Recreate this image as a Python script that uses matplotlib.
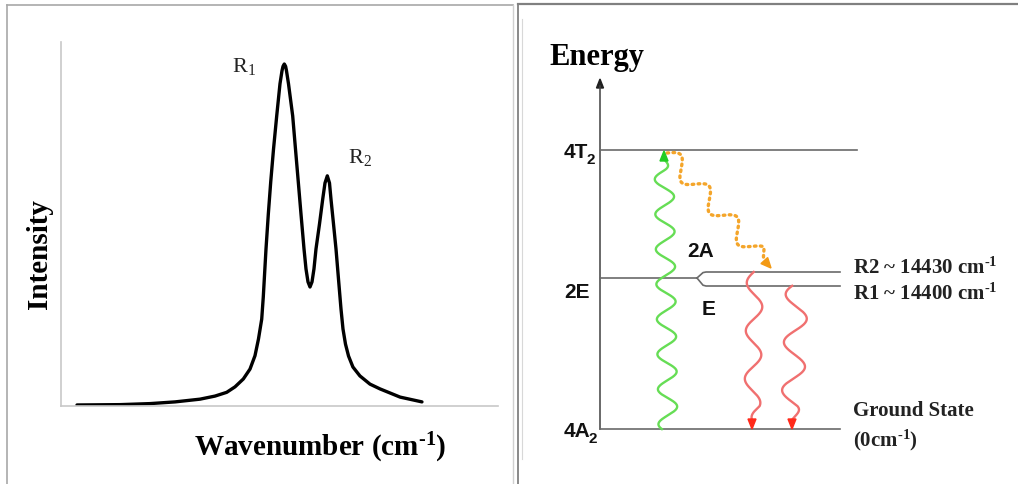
import matplotlib
matplotlib.use("Agg")
import matplotlib.pyplot as plt
import numpy as np
from matplotlib.patches import Polygon

plt.rcParams["mathtext.fontset"] = "custom"
plt.rcParams["mathtext.rm"] = "Liberation Serif"
plt.rcParams["mathtext.bf"] = "Liberation Serif:bold"
plt.rcParams["mathtext.it"] = "Liberation Serif:italic"

# ---------------- data: emission spectrum -------------
wavenumber = [3.66, 13.50, 20.37, 26.09, 31.81, 35.24, 37.92, 39.82, 41.72,
              43.25, 44.39, 45.19, 45.93, 46.29, 46.91, 47.44, 47.99, 48.63,
              49.36, 50.11, 50.57, 50.80, 51.10, 51.40, 51.60, 52.06, 53.02,
              53.66, 54.30, 54.92, 55.61, 56.06, 56.52, 56.98, 57.44, 57.89,
              58.35, 59.15, 59.89, 60.41, 60.94, 61.44, 61.78, 62.36, 62.93,
              63.50, 64.07, 64.53, 65.10, 65.80, 66.80, 68.40, 70.70, 73.00,
              77.60, 82.60]
intensity = [0.003, 0.004, 0.007, 0.012, 0.020, 0.029, 0.040, 0.056, 0.079,
             0.108, 0.147, 0.196, 0.254, 0.319, 0.459, 0.561, 0.655, 0.751,
             0.848, 0.942, 0.980, 0.993, 1.000, 0.993, 0.980, 0.942, 0.848,
             0.751, 0.655, 0.561, 0.459, 0.401, 0.363, 0.348, 0.363, 0.401,
             0.459, 0.532, 0.605, 0.652, 0.673, 0.652, 0.605, 0.532, 0.459,
             0.371, 0.284, 0.225, 0.181, 0.146, 0.114, 0.088, 0.064, 0.050,
             0.026, 0.012]
peak_labels = ["R$_1$", "R$_2$"]
peak_label_x = [39.1, 65.7]
peak_label_y = [0.98, 0.713]
spectrum_xlabel = "Wavenumber (cm$^{\\mathbf{\\text{-}1}}$)"
spectrum_ylabel = "Intensity"

# ---------------- data: energy level diagram (diagram units) -----------------
level_names = ["4A", "2E", "4T"]
level_subs = ["2", "", "2"]
level_energy = [0, 151, 279]
split_names = ["R1", "R2"]
split_energy = [143, 157]
split_labels = ["R1 ~ 14400 cm$^{\\mathbf{\\text{-}1}}$",
                "R2 ~ 14430 cm$^{\\mathbf{\\text{-}1}}$"]
ground_label = ["Ground State", "(0cm$^{\\mathbf{\\text{-}1}}$)"]
sublevel_labels = ["2A", "E"]
energy_title = "Energy"

W, H = 1018, 485
fig = plt.figure(figsize=(W / 100, H / 100), dpi=100)

# ---------------- left: spectrum ---------------------------------------------
ax1 = fig.add_axes([61 / W, (H - 407) / H, 437 / W, 364 / H])
ax1.plot(wavenumber, intensity, color="black", lw=2.4, solid_capstyle="round",
         solid_joinstyle="round")
ax1.set_xlim(0, 100)
ax1.set_ylim(0, 364 / 342)
for s in ["top", "right"]:
    ax1.spines[s].set_visible(False)
for s in ["left", "bottom"]:
    ax1.spines[s].set_color("#c8c8c8")
    ax1.spines[s].set_linewidth(1.2)
ax1.set_xticks([])
ax1.set_yticks([])
ax1.patch.set_alpha(0)
for lab, lx, ly in zip(peak_labels, peak_label_x, peak_label_y):
    ax1.text(lx, ly, lab, fontsize=16, family="Liberation Serif",
             color="#222222", ha="left", va="baseline")
fig.text(40 / W, 1 - 254 / H, spectrum_ylabel, rotation=90, ha="center",
         va="center", fontsize=21, family="Liberation Serif", weight="bold")
fig.text(320 / W, 1 - 448 / H, spectrum_xlabel, ha="center", va="center",
         fontsize=21, family="Liberation Serif", weight="bold")

# ---------------- overlay: borders + energy diagram --------------------------
ax = fig.add_axes([0, 0, 1, 1])
ax.set_xlim(0, W)
ax.set_ylim(-55, H - 55)
ax.axis("off")
ax.patch.set_alpha(0)

def py(p):  # convert picture row to overlay units
    return 430 - p

# panel borders
ax.plot([7, 513], [py(6), py(6)], color="#a8a8a8", lw=1.2)
ax.plot([7, 7], [py(6), py(485)], color="#a8a8a8", lw=1.2)
ax.plot([513, 513], [py(6), py(485)], color="#d0d0d0", lw=1.0)
ax.plot([518, 518], [py(5), py(485)], color="#808080", lw=1.3)
ax.plot([518, W], [py(5), py(5)], color="#808080", lw=1.6)
ax.plot([522, 522], [py(20), py(460)], color="#d8d8d8", lw=0.8)

# energy axis
axis_x = 600
ax.plot([axis_x, axis_x], [level_energy[0], 343], color="#404040", lw=1.1)
ax.add_patch(Polygon([[axis_x - 3.5, 341], [axis_x + 3.5, 341], [axis_x, 350]],
                     closed=True, color="#202020"))
ax.text(549, 365, energy_title, fontsize=22, family="Liberation Serif",
        weight="bold", ha="left", va="baseline")

lvl_color = "#6a6a6a"
lvl_ends = [840, 697, 857]
for e, xe in zip(level_energy, lvl_ends):
    ax.plot([axis_x, xe], [e, e], color=lvl_color, lw=1.2)
# split of 2E into R1 / R2
e2 = level_energy[1]
for es in split_energy:
    d = es - e2
    ax.plot([697, 700, 703, 706, 840],
            [e2, e2 + d * 0.45, e2 + d * 0.9, es, es],
            color=lvl_color, lw=1.2, solid_joinstyle="round")

# level labels (sans bold)
lab_fs = 15
label_x = [590, 590, 588]
label_base = [-7, 132, 272]
for name, sub, lx, lb in zip(level_names, level_subs, label_x, label_base):
    ax.text(lx, lb, name, fontsize=lab_fs, family="Liberation Sans",
            weight="bold", ha="right", va="baseline", color="#111111")
    if sub:
        ax.text(lx - 1, lb - 6, sub, fontsize=11, family="Liberation Sans",
                weight="bold", ha="left", va="baseline", color="#111111")
ax.text(687, 173, sublevel_labels[0], fontsize=lab_fs, family="Liberation Sans",
        weight="bold", ha="left", va="baseline", color="#111111")
ax.text(702, 115, sublevel_labels[1], fontsize=lab_fs, family="Liberation Sans",
        weight="bold", ha="left", va="baseline", color="#111111")

# right-hand labels (serif bold)
for es, lab, off in zip(split_energy, split_labels, [-7, 5]):
    ax.text(853, es + off, lab, fontsize=15, family="Liberation Serif",
            weight="bold", ha="left", va="center", color="#222222")
ax.text(853, 19, ground_label[0], fontsize=15, family="Liberation Serif",
        weight="bold", ha="left", va="center", color="#222222")
ax.text(853, -10, ground_label[1], fontsize=15, family="Liberation Serif",
        weight="bold", ha="left", va="center", color="#222222")

def wave(x0, y0, x1, y1, period, amp, phase=0.0, taper=0.0):
    L = np.hypot(x1 - x0, y1 - y0)
    t = np.linspace(0, 1, 600)
    nx, ny = -(y1 - y0) / L, (x1 - x0) / L
    env = np.ones_like(t)
    if taper > 0:
        env = np.clip((1 - t) * L / taper, 0, 1)
    off = amp * np.sin(2 * np.pi * t * L / period + phase) * env
    return x0 + t * (x1 - x0) + off * nx, y0 + t * (y1 - y0) + off * ny

def head(ax, tip, frm, color, length=10, width=8):
    tip = np.array(tip, float)
    frm = np.array(frm, float)
    d = tip - frm
    d /= np.hypot(*d)
    n = np.array([-d[1], d[0]])
    base = tip - d * length
    ax.add_patch(Polygon([tip, base + n * width / 2, base - n * width / 2],
                         closed=True, color=color, zorder=5))

# excitation (green)
gx, gy = wave(668, level_energy[0], 664, level_energy[2] - 9, 35, 9.5,
              phase=0.7, taper=12)
ax.plot(gx, gy, color="#66dd55", lw=1.7)
head(ax, (664, level_energy[2] - 1), (664, level_energy[2] - 12), "#22cc22", 10, 8)

# non-radiative relaxation (orange dotted)
ox, oy = wave(667, level_energy[2] - 3, 764, split_energy[1] + 12, 42, 9,
              phase=0.0, taper=10)
ax.plot(ox, oy, color="#f4a52a", lw=2.4, ls=(0, (0.5, 1.3)),
        dash_capstyle="round")
head(ax, (771, split_energy[1] + 4), (762, split_energy[1] + 14), "#f39a14", 10, 9)

# emission (red)
r1x, r1y = wave(755, split_energy[1], 752, level_energy[0] + 9, 48, 8,
                phase=3.3, taper=14)
ax.plot(r1x, r1y, color="#f07070", lw=1.7)
head(ax, (752, level_energy[0]), (752, level_energy[0] + 12), "#ff2a1a", 10, 8)
r2x, r2y = wave(797, split_energy[0], 792, level_energy[0] + 9, 48, 11,
                phase=3.6, taper=14)
ax.plot(r2x, r2y, color="#f07070", lw=1.7)
head(ax, (792, level_energy[0]), (792, level_energy[0] + 12), "#ff2a1a", 10, 8)

fig.savefig("out.png", dpi=100)
